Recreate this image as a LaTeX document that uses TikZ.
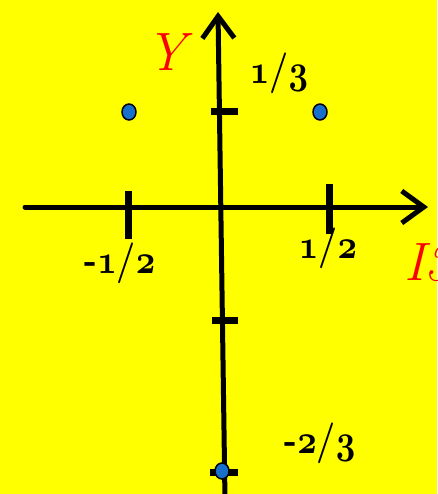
\RequirePackage{fix-cm}
\documentclass[tikz,border=0pt]{standalone}
\usetikzlibrary{arrows.meta,shapes.geometric}
\definecolor{canary}{RGB}{255,255,0}
\definecolor{dotblue}{RGB}{22,112,204}
\definecolor{tagred}{RGB}{250,0,0}
\newcommand\osn[1]{{\usefont{OML}{cmm}{b}{it}#1}}
\newcommand\frc[1]{\scalebox{1}[1.2]{#1}}
\tikzset{
  >={Straight Barb[length=22pt,width=32pt,line width=5pt]},
  axis/.style={->,line width=5pt,line cap=round,line join=round},
  tickmark/.style={line width=7pt},
  dot/.style={ellipse,draw=black,line width=1.5pt,fill=dotblue,
    minimum width=14pt,minimum height=16pt,inner sep=0pt},
  num/.style={font=\fontsize{34}{38}\selectfont\bfseries,inner sep=0pt},
  tag/.style={text=tagred,font=\fontsize{54}{58}\selectfont\itshape},
}
\begin{document}
\begin{tikzpicture}[x=1pt,y=-1pt]
  \fill[canary] (0,0) rectangle (437,494);
  \useasboundingbox (0,0) rectangle (437,494);
  \clip (0,0) rectangle (437,494);
  % axes
  \coordinate (xl) at (25,207);
  \coordinate (xr) at (428,207);
  \coordinate (yb) at (225,500);
  \coordinate (yt) at (218,12);
  \draw[axis] (xl) -- (xr);
  \draw[axis] (yb) -- (yt);
  % ticks
  \draw[tickmark] (128,191) -- (128,239);
  \draw[tickmark] (329,184) -- (329,234);
  \draw[tickmark] (211,112) -- (238,112);
  \draw[tickmark] (212,320) -- (238,320);
  \draw[tickmark] (210,472) -- (238,472);
  % points
  \node[dot] (pa) at (129,112) {};
  \node[dot] (pb) at (320,112) {};
  \node[dot] (pc) at (222,471) {};
  % labels
  \node[tag] (ly) at (166,52) {Y};
  \node[tag,anchor=west] (li) at (401,263) {I3};
  \node[num] (lt) at (279,73) {\frc{\osn{1}/\osn{3}}};
  \node[num] (lh) at (120,263) {\frc{-\osn{1}/\osn{2}}};
  \node[num] (lr) at (328,248) {\frc{\osn{1}/\osn{2}}};
  \node[num] (lb) at (320,443) {\frc{-\osn{2}/\osn{3}}};
\end{tikzpicture}
\end{document}
